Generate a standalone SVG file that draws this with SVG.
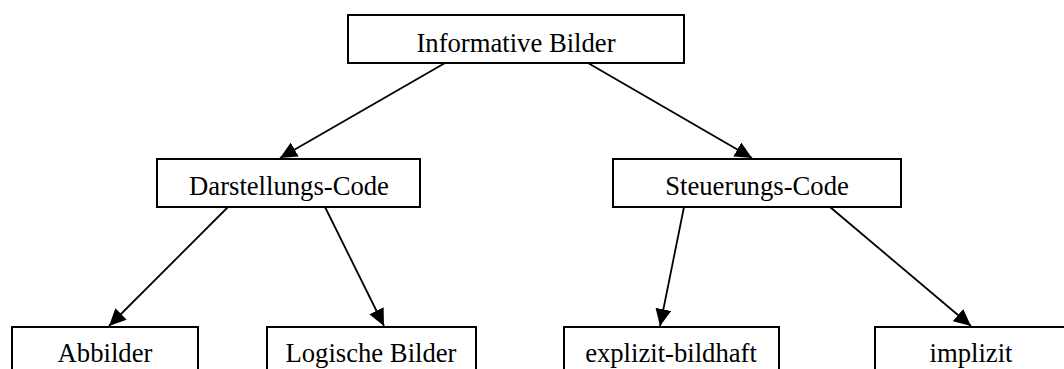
<svg xmlns="http://www.w3.org/2000/svg" width="1064" height="369" viewBox="0 0 1064 369">
<defs>
<marker id="arr" markerUnits="userSpaceOnUse" markerWidth="18" markerHeight="16" refX="17" refY="8" orient="auto">
<path d="M0,0 L17,8 L0,16 Z" fill="#000"/>
</marker>
</defs>
<rect width="1064" height="369" fill="#fff"/>
<g id="connectors" stroke="#000" stroke-width="1.8" fill="none" marker-end="url(#arr)">
<line x1="445" y1="63" x2="280" y2="158"/>
<line x1="588" y1="63" x2="752" y2="158"/>
<line x1="228" y1="207" x2="109" y2="326"/>
<line x1="325" y1="207" x2="384" y2="326"/>
<line x1="684" y1="207" x2="660" y2="326"/>
<line x1="830" y1="207" x2="971" y2="326"/>
</g>
<g id="nodes" font-family="Liberation Serif" font-size="26.67" text-anchor="middle">
<g id="informative">
<rect x="348" y="15" width="336" height="48" fill="#fff" stroke="#000" stroke-width="2"/>
<text x="516" y="52">Informative Bilder</text>
</g>
<g id="darstellung">
<rect x="157" y="159" width="263" height="48" fill="#fff" stroke="#000" stroke-width="2"/>
<text x="289" y="195">Darstellungs-Code</text>
</g>
<g id="steuerung">
<rect x="613" y="159" width="288" height="48" fill="#fff" stroke="#000" stroke-width="2"/>
<text x="757" y="195">Steuerungs-Code</text>
</g>
<g id="abbilder">
<rect x="12" y="327" width="186" height="60" fill="#fff" stroke="#000" stroke-width="2"/>
<text x="105" y="362">Abbilder</text>
</g>
<g id="logische">
<rect x="267" y="327" width="209" height="60" fill="#fff" stroke="#000" stroke-width="2"/>
<text x="371" y="362">Logische Bilder</text>
</g>
<g id="explizit">
<rect x="564" y="327" width="215" height="60" fill="#fff" stroke="#000" stroke-width="2"/>
<text x="671" y="362">explizit-bildhaft</text>
</g>
<g id="implizit">
<rect x="875" y="327" width="192" height="60" fill="#fff" stroke="#000" stroke-width="2"/>
<text x="971" y="362">implizit</text>
</g>
</g>
</svg>
